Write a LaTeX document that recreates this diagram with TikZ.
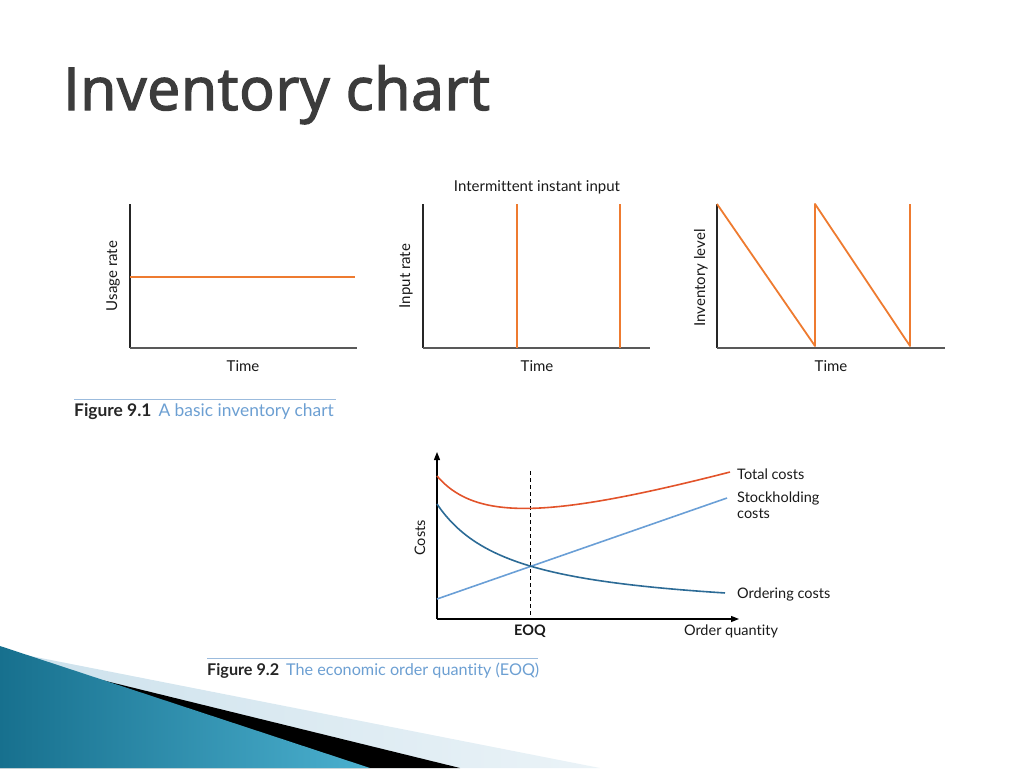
\documentclass[tikz,border=0pt]{standalone}
\usepackage{fontspec}
\setmainfont[Ligatures=NoCommon]{Lato}
\newfontfamily\titlefont[FakeBold=2.2, LetterSpace=1]{Open Sans}
\usetikzlibrary{arrows.meta}
\definecolor{invorange}{HTML}{EE7B30}
\definecolor{totalred}{HTML}{E2532A}
\definecolor{stockblue}{HTML}{6A9FD6}
\definecolor{orderblue}{HTML}{2C6B96}
\definecolor{capblue}{HTML}{6C9FD2}
\definecolor{capline}{HTML}{9BBBDD}
\definecolor{titlegray}{HTML}{3C3C3C}
\definecolor{tealdark}{HTML}{17708E}
\definecolor{teallight}{HTML}{4BB0CF}
\definecolor{paleblue}{HTML}{CCE1EC}

\begin{document}
\begin{tikzpicture}[x=1pt, y=-1pt,
    lbl/.style={inner sep=0pt, text=black!90, font=\fontsize{15}{17}\selectfont},
    smalllbl/.style={inner sep=0pt, text=black!90, font=\fontsize{14.5}{16}\selectfont},
    yaxis/.style={draw=black!85, line width=1.5pt},
    xaxis/.style={draw=black!65, line width=2.2pt},
    rate/.style={draw=invorange, line width=1.8pt},
    costaxis/.style={draw=black, line width=1.3pt, -{Triangle[length=8, width=6]}},
    curve/.style={line width=1.6pt}]
    \useasboundingbox (0, 0) rectangle (1024, 768);

    % corner swoosh
    \shade [left color=paleblue, right color=paleblue!40] (0, 650) -- (600, 768) -- (0, 768) -- cycle;
    \fill [black] (0, 655) -- (460, 768) -- (0, 768) -- cycle;
    \shade [left color=tealdark, right color=teallight] (0, 646) -- (370, 768) -- (0, 768) -- cycle;

    \node [anchor=base west, inner sep=0pt, text=titlegray, font=\titlefont\fontsize{59}{64}\selectfont] (title) at (63, 110) {Inventory chart};

    % usage
    \draw [yaxis] (130, 204) -- (130, 348);
    \draw [xaxis] (130, 348) -- (357, 348);
    \draw [rate] (130, 277) -- (355, 277);
    \node [lbl, rotate=90] (usage) at (113, 276) {Usage rate};
    \node [lbl] (time1) at (243, 366) {Time};

    % input
    \draw [yaxis] (423, 204) -- (423, 348);
    \draw [xaxis] (423, 348) -- (650, 348);
    \draw [rate] (517, 204) -- (517, 348);
    \draw [rate] (620, 204) -- (620, 348);
    \node [lbl, rotate=90] (input) at (406, 276) {Input rate};
    \node [lbl] (time2) at (537, 366) {Time};
    \node [lbl] (instant) at (537, 187) {Intermittent instant input};

    % level
    \draw [yaxis] (717, 204) -- (717, 348);
    \draw [xaxis] (717, 348) -- (945, 348);
    \draw [rate, line join=round] (717, 204) -- (815, 346) -- (815, 204) -- (910, 346) -- (910, 204);
    \node [lbl, rotate=90] (level) at (701, 278) {Inventory level};
    \node [lbl] (time3) at (831, 366) {Time};

    \draw [capline, line width=1pt] (74, 399) -- (336, 399);
    \node [anchor=base west, inner sep=0pt, font=\fontsize{17.4}{19}\selectfont] (cap1) at (74, 416)
        {\textcolor{black!85}{\bfseries Figure 9.1}\hspace{7pt}\textcolor{capblue}{A basic inventory chart}};

    % EOQ
    \draw [costaxis] (437, 619) -- (437, 452);
    \draw [costaxis] (437, 619) -- (739, 619);
    \draw [black, line width=0.9pt, dash pattern=on 4pt off 3pt] (530, 471) -- (530, 619);
    \draw [curve, stockblue] (437, 599) -- (727, 498);
    \draw [curve, orderblue] plot [domain=0:288, samples=80, smooth] ({437+\x}, {616.3-8481/(\x+75.5)});
    \draw [curve, totalred] plot [domain=0:293, samples=80, smooth] ({437+\x}, {588.3-8481/(\x+75.5)-0.3183*\x});
    \node [smalllbl, rotate=90] (costs) at (420, 538) {Costs};
    \node [smalllbl, anchor=west] (total) at (737, 474) {Total costs};
    \node [smalllbl, anchor=west, align=left] (stock) at (737, 505) {Stockholding\\costs};
    \node [smalllbl, anchor=west] (ordering) at (737, 594) {Ordering costs};
    \node [smalllbl, font=\bfseries\fontsize{14.5}{16}\selectfont] (eoq) at (530, 631) {EOQ};
    \node [smalllbl] (quantity) at (731, 631) {Order quantity};

    \draw [capline, line width=1pt] (207, 658) -- (538, 658);
    \node [anchor=base west, inner sep=0pt, font=\fontsize{16.2}{18}\selectfont] (cap2) at (207, 675)
        {\textcolor{black!85}{\bfseries Figure 9.2}\hspace{7pt}\textcolor{capblue}{The economic order quantity (EOQ)}};
\end{tikzpicture}
\end{document}
